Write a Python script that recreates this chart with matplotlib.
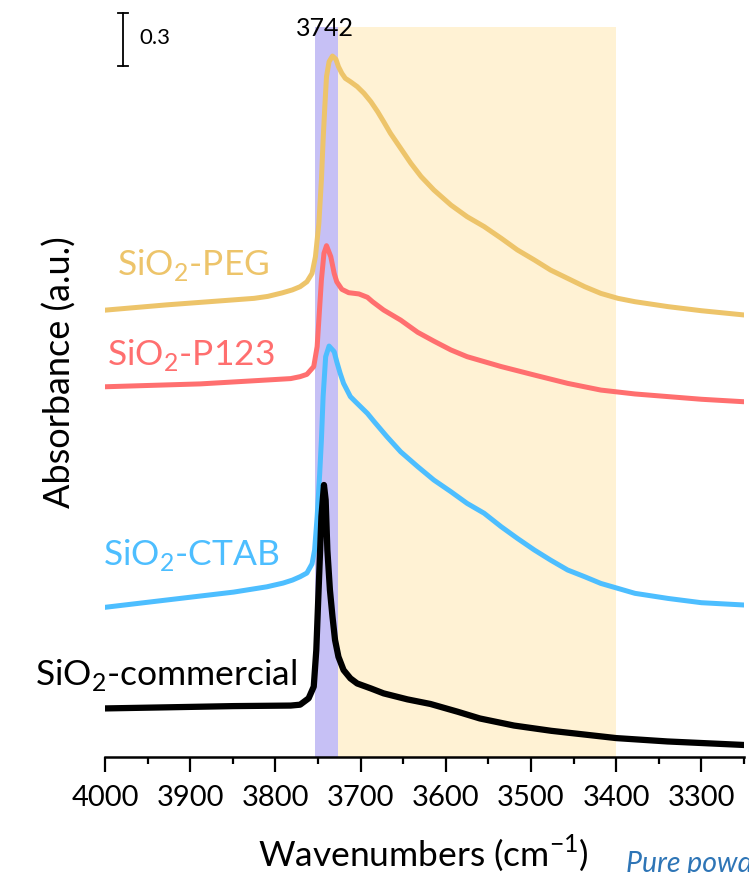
import numpy as np
import matplotlib
matplotlib.use('Agg')
import matplotlib.pyplot as plt
from matplotlib.ticker import MultipleLocator

plt.rcParams['font.family'] = ['Lato', 'DejaVu Sans']
plt.rcParams['mathtext.fontset'] = 'custom'
plt.rcParams['mathtext.rm'] = 'Lato'
plt.rcParams['axes.unicode_minus'] = False

# spectra (wavenumber, absorbance incl. stacking offsets)
peg_wn = [3998, 3928, 3850, 3825, 3809, 3792, 3780, 3771, 3763, 3757, 3753, 3749, 3746,
          3744, 3742, 3740, 3737, 3733, 3729, 3726, 3722, 3718, 3712, 3704, 3696, 3688,
          3680, 3673, 3665, 3653, 3641, 3629, 3614, 3594, 3575, 3555, 3535, 3516, 3496,
          3477, 3457, 3437, 3418, 3398, 3378, 3339, 3300, 3250]
peg_abs = [2.586, 2.615, 2.643, 2.652, 2.663, 2.683, 2.700, 2.718, 2.746, 2.793, 2.888,
           3.076, 3.322, 3.548, 3.737, 3.907, 3.991, 4.023, 4.005, 3.963, 3.925, 3.897,
           3.878, 3.850, 3.812, 3.765, 3.708, 3.652, 3.586, 3.501, 3.416, 3.341, 3.265,
           3.180, 3.114, 3.058, 2.992, 2.926, 2.869, 2.812, 2.765, 2.718, 2.680, 2.652,
           2.633, 2.605, 2.582, 2.558]

p123_wn = [3998, 3888, 3810, 3782, 3771, 3763, 3755, 3751, 3749, 3746, 3743, 3740, 3735,
           3731, 3728, 3722, 3714, 3702, 3692, 3686, 3673, 3653, 3633, 3614, 3594, 3575,
           3535, 3496, 3457, 3418, 3378, 3339, 3300, 3250]
p123_abs = [2.152, 2.168, 2.190, 2.198, 2.209, 2.222, 2.266, 2.379, 2.530, 2.756, 2.907,
            2.950, 2.888, 2.793, 2.746, 2.703, 2.684, 2.677, 2.658, 2.633, 2.586, 2.529,
            2.460, 2.410, 2.360, 2.322, 2.266, 2.218, 2.171, 2.133, 2.111, 2.096, 2.081,
            2.067]

ctab_wn = [3998, 3928, 3849, 3810, 3791, 3780, 3771, 3763, 3757, 3754, 3751, 3748, 3746,
           3744, 3741, 3737, 3731, 3728, 3724, 3720, 3712, 3706, 3692, 3684, 3669, 3653,
           3633, 3614, 3594, 3575, 3555, 3535, 3516, 3496, 3477, 3457, 3437, 3418, 3398,
           3378, 3339, 3300, 3250]
ctab_abs = [0.905, 0.945, 0.990, 1.020, 1.041, 1.058, 1.077, 1.098, 1.150, 1.228, 1.417,
            1.662, 1.850, 2.096, 2.322, 2.382, 2.350, 2.294, 2.228, 2.171, 2.096, 2.067,
            2.001, 1.954, 1.869, 1.784, 1.700, 1.624, 1.558, 1.492, 1.436, 1.360, 1.294,
            1.228, 1.171, 1.115, 1.077, 1.039, 1.011, 0.983, 0.954, 0.930, 0.917]

comm_wn = [3998, 3928, 3849, 3782, 3771, 3761, 3755, 3752, 3749, 3746, 3743, 3741, 3739,
           3736, 3733, 3730, 3726, 3720, 3712, 3704, 3688, 3673, 3645, 3618, 3586, 3560,
           3520, 3476, 3400, 3340, 3250]
comm_abs = [0.332, 0.338, 0.345, 0.348, 0.353, 0.389, 0.455, 0.662, 1.039, 1.417, 1.596,
            1.511, 1.228, 1.002, 0.851, 0.719, 0.624, 0.549, 0.502, 0.473, 0.445, 0.417,
            0.383, 0.357, 0.313, 0.275, 0.235, 0.205, 0.164, 0.145, 0.125]

labels = ['SiO$_\\mathregular{2}$-PEG', 'SiO$_\\mathregular{2}$-P123',
          'SiO$_\\mathregular{2}$-CTAB', 'SiO$_\\mathregular{2}$-commercial']
colors = ['#EDC46A', '#FF6F6F', '#4DBEFF', '#000000']

fig = plt.figure(figsize=(7.49, 8.73), dpi=100)
ax = fig.add_axes([105 / 749, 116 / 873, 639 / 749, 757 / 873])

y0, y1 = 0.057, 4.34
band_top = 4.188
ax.fill_betweenx([y0, band_top], 3726, 3400, color='#FFF2D4', lw=0, zorder=0)
ax.fill_betweenx([y0, band_top], 3754, 3726, color='#C6C0F5', lw=0, zorder=0)

ax.plot(peg_wn, peg_abs, color=colors[0], lw=3.6, solid_joinstyle='round')
ax.plot(p123_wn, p123_abs, color=colors[1], lw=3.6, solid_joinstyle='round')
ax.plot(ctab_wn, ctab_abs, color=colors[2], lw=3.6, solid_joinstyle='round')
ax.plot(comm_wn, comm_abs, color=colors[3], lw=4.5, solid_joinstyle='round')

# curve labels
ax.text(3986, 2.784, labels[0], color=colors[0], fontsize=25.5, va='baseline')
ax.text(3998, 2.275, labels[1], color=colors[1], fontsize=25.5, va='baseline')
ax.text(4002, 1.143, labels[2], color=colors[2], fontsize=25.5, va='baseline')
ax.text(3774, 0.464, labels[3], color=colors[3], fontsize=25.5, va='baseline', ha='right')

ax.text(3742, 4.177, '3742', fontsize=18, ha='center', va='center')

# scale bar
ax.plot([3979, 3979], [3.967, 4.267], color='black', lw=1.3, clip_on=False)
ax.plot([3985, 3973], [4.267, 4.267], color='black', lw=1.3, clip_on=False)
ax.plot([3985, 3973], [3.967, 3.967], color='black', lw=1.3, clip_on=False)
ax.text(3960, 4.126, '0.3', fontsize=16, va='center')

ax.set_xlim(4000, 3250)
ax.set_ylim(y0, y1)
ax.xaxis.set_major_locator(MultipleLocator(100))
ax.xaxis.set_minor_locator(MultipleLocator(50))
ax.tick_params(axis='x', which='major', length=11, width=1.6, labelsize=21, pad=9)
ax.tick_params(axis='x', which='minor', length=5, width=1.6)
ax.set_yticks([])
for s in ['left', 'right', 'top']:
    ax.spines[s].set_visible(False)
ax.spines['bottom'].set_linewidth(1.8)

fig.text(0.565, 0.0092, 'Wavenumbers (cm$^\\mathregular{-1}$)', fontsize=25.5,
         ha='center', va='baseline')
fig.text(0.080, 0.574, 'Absorbance (a.u.)', fontsize=26, rotation=90,
         ha='center', va='center')
fig.text(626 / 749, 0.001, 'Pure powders', fontsize=20.5, style='italic',
         color='#2E75B6', va='baseline')

fig.savefig('out.png', dpi=100)
